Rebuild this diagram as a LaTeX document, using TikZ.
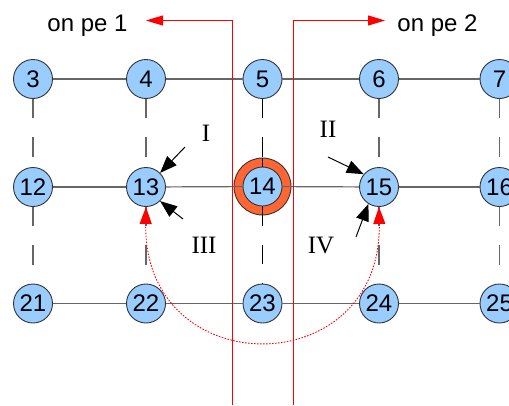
\documentclass[tikz,border=0pt]{standalone}
\usepackage{fontspec}
\setmainfont{Liberation Serif}
\newfontfamily\sansf{Liberation Sans}
\usetikzlibrary{arrows.meta}
\definecolor{nodeblue}{HTML}{99CCFF}
\definecolor{ringorange}{HTML}{FF6633}
\definecolor{edgegray}{HTML}{666666}
\definecolor{partred}{HTML}{FF0000}
\tikzset{
  pe/.style={circle,minimum size=39pt,inner sep=0pt,fill=nodeblue,draw=black!80,line width=0.9pt,font=\sansf\fontsize{24}{28}\selectfont},
  ringnode/.style={circle,minimum size=57pt,inner sep=0pt,fill=ringorange,draw=black!80,line width=0.9pt},
  hline/.style={draw=edgegray,line width=1.2pt},
  vline/.style={draw=edgegray,line width=1.3pt,dash pattern=on 19.5pt off 19pt},
  redline/.style={draw=partred,line width=1pt},
  redarrow/.style={redline,-{Triangle[length=17pt,width=10pt]}},
  redarc/.style={draw=partred,line width=0.9pt,dash pattern=on 1.5pt off 1.5pt,{Triangle[length=17pt,width=12pt]}-{Triangle[length=17pt,width=12pt]}},
  blackarrow/.style={draw=black,line width=1pt,-{Triangle[length=17pt,width=13pt]}},
  pelabel/.style={anchor=base,font=\sansf\fontsize{24}{28}\selectfont,inner sep=0pt},
  roman/.style={anchor=base,font=\fontsize{25}{29}\selectfont,inner sep=0pt}
}
\begin{document}
\begin{tikzpicture}[x=1pt,y=-1pt]
\useasboundingbox (0,0) rectangle (509,405);
% ring around 14
\node[ringnode] (ring14) at (262.5,186.5) {};
% nodes
\node[pe] (n3) at (33,79) {3};
\node[pe] (n4) at (146,79) {4};
\node[pe] (n5) at (262.5,79) {5};
\node[pe] (n6) at (379,79) {6};
\node[pe] (n7) at (499.5,79) {7};
\node[pe] (n12) at (33,187) {12};
\node[pe] (n13) at (146,187) {13};
\node[pe] (n14) at (262.5,186.5) {14};
\node[pe] (n15) at (379,187) {15};
\node[pe] (n16) at (499.5,187) {16};
\node[pe] (n21) at (33,303.5) {21};
\node[pe] (n22) at (146,303.5) {22};
\node[pe] (n23) at (262.5,303.5) {23};
\node[pe] (n24) at (379,303.5) {24};
\node[pe] (n25) at (499.5,303.5) {25};
% horizontal edges
\draw[hline] (n3) -- (n4); \draw[hline] (n4) -- (n5); \draw[hline] (n5) -- (n6); \draw[hline] (n6) -- (n7);
\draw[hline] (n12) -- (n13); \draw[hline] (n13) -- (n14); \draw[hline] (n14) -- (n15); \draw[hline] (n15) -- (n16);
\draw[hline] (n21) -- (n22); \draw[hline] (n22) -- (n23); \draw[hline] (n23) -- (n24); \draw[hline] (n24) -- (n25);
% vertical edges
\draw[vline] (n3) -- (n12); \draw[vline] (n12) -- (n21);
\draw[vline] (n4) -- (n13); \draw[vline] (n13) -- (n22);
\draw[vline,draw=black] (n5) -- (n14); \draw[vline,draw=black] (n14) -- (n23);
\draw[hline,draw=black] (ring14.north) -- (n14.north);
\draw[vline] (n6) -- (n15); \draw[vline] (n15) -- (n24);
\draw[vline] (n7) -- (n16); \draw[vline] (n16) -- (n25);
% red partition lines
\coordinate (l0) at (232,405);
\coordinate (l1) at (232,20.5);
\coordinate (l2) at (146,20.5);
\coordinate (r0) at (293,405);
\coordinate (r1) at (293,20.5);
\coordinate (r2) at (385,20.5);
\draw[redarrow] (l0) -- (l1) -- (l2);
\draw[redarrow] (r0) -- (r1) -- (r2);
\node[pelabel] (pe1) at (87.5,31.5) {on pe 1};
\node[pelabel] (pe2) at (437.5,31.5) {on pe 2};
% red dotted arc
\draw[redarc] (n13.south) .. controls (143,384) and (382,384) .. (n15.south);
% black arrows
\coordinate (aI) at (185,147);
\coordinate (aIII) at (183,219);
\coordinate (aII) at (328,157);
\coordinate (aIV) at (356,237);
\draw[blackarrow] (aI) -- (n13.45);
\draw[blackarrow] (aIII) -- (n13.-45);
\draw[blackarrow] (aII) -- (n15.140);
\draw[blackarrow] (aIV) -- (n15.-122);
\node[roman] (lI) at (206,141.5) {I};
\node[roman] (lII) at (328,137) {II};
\node[roman] (lIII) at (204,253) {III};
\node[roman] (lIV) at (321,253) {IV};
\end{tikzpicture}
\end{document}
